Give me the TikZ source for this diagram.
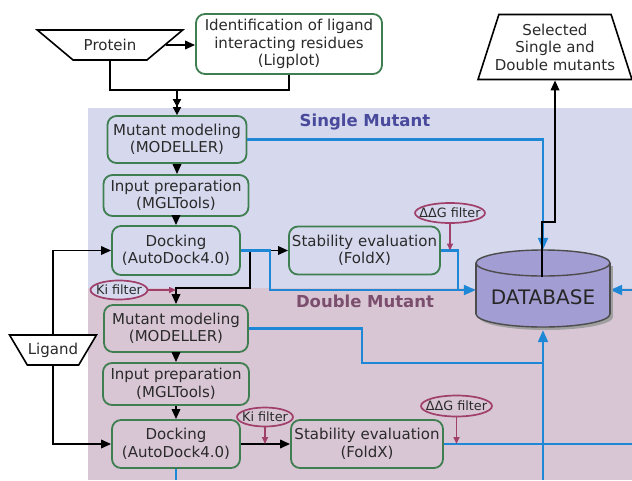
\documentclass[tikz,border=0pt]{standalone}
\usepackage{fontspec}
\setmainfont{DejaVu Sans}
\usetikzlibrary{shapes.geometric,arrows.meta}
\definecolor{sbg}{HTML}{D6D9EE}
\definecolor{dbg}{HTML}{D9C6D5}
\definecolor{boxgreen}{HTML}{3E7E50}
\definecolor{txt}{HTML}{2A2A2A}
\definecolor{flowblue}{HTML}{1E88D6}
\definecolor{filtred}{HTML}{A0406A}
\definecolor{dbfill}{HTML}{A29DD2}
\definecolor{slabel}{HTML}{4A4A9C}
\definecolor{dlabel}{HTML}{7A4E6C}
\begin{document}
\begin{tikzpicture}[x=1pt,y=-1pt,
  every node/.style={text=txt,font=\fontsize{15}{17.5}\selectfont},
  procbox/.style={draw=boxgreen,line width=1.8pt,rounded corners=9pt,align=center,inner sep=0pt},
  trap/.style={draw=black,line width=1.6pt,trapezium,trapezium stretches=true,inner sep=0pt,inner xsep=-12pt,fill=white,align=center},
  filt/.style={ellipse,draw=filtred,line width=1.7pt,inner xsep=-12pt,inner ysep=-5pt,font=\fontsize{12.8}{14}\selectfont},
  blk/.style={draw=black,line width=1.8pt},
  blu/.style={draw=flowblue,line width=2.1pt},
  >={Triangle[length=10pt,width=8.5pt]},
  bluetip/.style={-{Triangle[length=12pt,width=10pt]}},
  redtip/.style={-{Triangle[length=7pt,width=6pt]}}
]
\useasboundingbox (0,0) rectangle (632,480);
\fill[white] (0,0) rectangle (632,480);
% regions
\fill[sbg] (88,108) rectangle (632,288);
\fill[dbg] (88,288) rectangle (632,480);
\node[font=\bfseries\fontsize{16.5}{19}\selectfont,text=slabel] (slab) at (365,122) {Single Mutant};
\node[font=\bfseries\fontsize{16.5}{19}\selectfont,text=dlabel] (dlab) at (365,301) {Double Mutant};

% top
\node[trap,trapezium angle=40,shape border rotate=180,minimum width=146pt,minimum height=30pt] (prot) at (110,45) {Protein};
\node[procbox,fill=white,minimum width=186pt,minimum height=60pt] (lig) at (289,44) {Identification of ligand\\interacting residues\\(Ligplot)};
\node[trap,trapezium angle=69,minimum width=154pt,minimum height=65pt] (sel) at (555,47) {Selected\\Single and\\Double mutants};
\node[trap,trapezium angle=58,shape border rotate=180,minimum width=87pt,minimum height=30pt] (ligand) at (53,350) {Ligand};

% single mutant boxes
\node[procbox,fill=sbg,minimum width=139pt,minimum height=47pt] (mm1) at (177,139.5) {Mutant modeling\\(MODELLER)};
\node[procbox,fill=sbg,minimum width=145pt,minimum height=41pt] (ip1) at (176,195.5) {Input preparation\\(MGLTools)};
\node[procbox,fill=sbg,minimum width=128pt,minimum height=49pt] (d1) at (176,250.5) {Docking\\(AutoDock4.0)};
\node[procbox,fill=sbg,minimum width=151pt,minimum height=48pt] (se1) at (364.5,250.5) {Stability evaluation\\(FoldX)};
% double mutant boxes
\node[procbox,fill=dbg,minimum width=144pt,minimum height=47pt] (mm2) at (176,328.5) {Mutant modeling\\(MODELLER)};
\node[procbox,fill=dbg,minimum width=146pt,minimum height=42pt] (ip2) at (176,384) {Input preparation\\(MGLTools)};
\node[procbox,fill=dbg,minimum width=128pt,minimum height=48pt] (d2) at (176,444) {Docking\\(AutoDock4.0)};
\node[procbox,fill=dbg,minimum width=152pt,minimum height=48pt] (se2) at (367,444) {Stability evaluation\\(FoldX)};

% filters
\node[filt,fill=sbg,minimum width=57pt,minimum height=19pt] (ki1) at (119,290) {Ki filter};
\node[filt,fill=sbg,minimum width=70pt,minimum height=20pt] (dg1) at (450,213) {ΔΔG filter};
\node[filt,fill=dbg,minimum width=56pt,minimum height=19pt] (ki2) at (265,417) {Ki filter};
\node[filt,fill=dbg,minimum width=71pt,minimum height=21pt] (dg2) at (456.5,406) {ΔΔG filter};

% database node (anchors)
\node[minimum width=134pt,minimum height=80pt,inner sep=0pt] (db) at (543,290) {};

% coordinates
\coordinate (j1) at (177,90);
\coordinate (k1) at (250,288);
\coordinate (b1) at (270,290);
\coordinate (c1) at (458,290);
\coordinate (m1) at (362,363);
\coordinate (redge) at (632,290);
\coordinate (redge2) at (632,444);
\coordinate (bedge) at (543,480);
\coordinate (bedge2) at (176,480);
\coordinate (dbin) at (542,277);
\coordinate (bend) at (542,222);

% top connectors
\draw[blk,->] (prot.east) -- (lig.west |- prot.east);
\draw[blk] (prot.south) -- (prot.south |- j1) -- (lig.south |- j1) -- (lig.south);
\draw[blk,-{Triangle[length=8pt,width=8pt] Triangle[length=8pt,width=8pt]}] (j1) -- (mm1.north);
\draw[blk,->] (mm1.south) -- (mm1.south |- ip1.north);
\draw[blk,->] (ip1.south) -- (ip1.south |- d1.north);
\draw[blk,->] (ligand.north) |- (d1.west);
\draw[blk,->] (ligand.south) |- (d2.west);
\draw[blk,->] (d1.east) -- (d1.east -| se1.west);
\draw[blk,->] (k1 |- d1.east) -- (k1) -| (mm2.north);
\draw[blk,->] (mm2.south) -- (mm2.south |- ip2.north);
\draw[blk,->] (ip2.south) -- (ip2.south |- d2.north);
\draw[blk,->] (d2.east) -- (d2.east -| se2.west);

% blue connectors
\draw[blu,bluetip] (mm1.east) -| (db.north);
\draw[blu] (d1.east) -| (b1) -- (c1);
\draw[blu,bluetip] (se1.east) -| (c1) -- (db.west);
\draw[blu,bluetip] (redge) -- (db.east);
\draw[blu] (mm2.east) -| (m1) -- (m1 -| db.south);
\draw[blu,bluetip] (bedge) -- (db.south);
\draw[blu] (se2.east) -- (redge2);
\draw[blu] (d2.south) -- (bedge2);

% filter arrows
\draw[filtred,line width=1.6pt,redtip] (ki1.east) -- (ki1.east -| mm2.north);
\draw[filtred,line width=1.6pt,redtip] (dg1.south) -- (dg1.south |- se1.east);
\draw[filtred,line width=1.6pt,redtip] (ki2.south) -- (ki2.south |- d2.east);
\draw[filtred,line width=1.6pt,redtip] (dg2.south) -- (dg2.south |- se2.east);

% database cylinder
\fill[gray!75] (546,317) ellipse [x radius=67, y radius=13];
\fill[gray!75] (479,266) rectangle (613,317);
\fill[dbfill,draw=black!70,line width=1.4pt] (543,314) ellipse [x radius=67, y radius=13];
\fill[dbfill] (476,263) rectangle (610,314);
\draw[black!70,line width=1.4pt] (476,263) -- (476,314) (610,263) -- (610,314);
\fill[dbfill,draw=black!70,line width=1.4pt] (543,263) ellipse [x radius=67, y radius=13];
\node[font=\fontsize{20}{22}\selectfont,text=black!85] (dbtxt) at (543,297) {DATABASE};

% output connector
\draw[blk,->] (dbin) -- (bend) -| (sel.south);
\end{tikzpicture}
\end{document}
